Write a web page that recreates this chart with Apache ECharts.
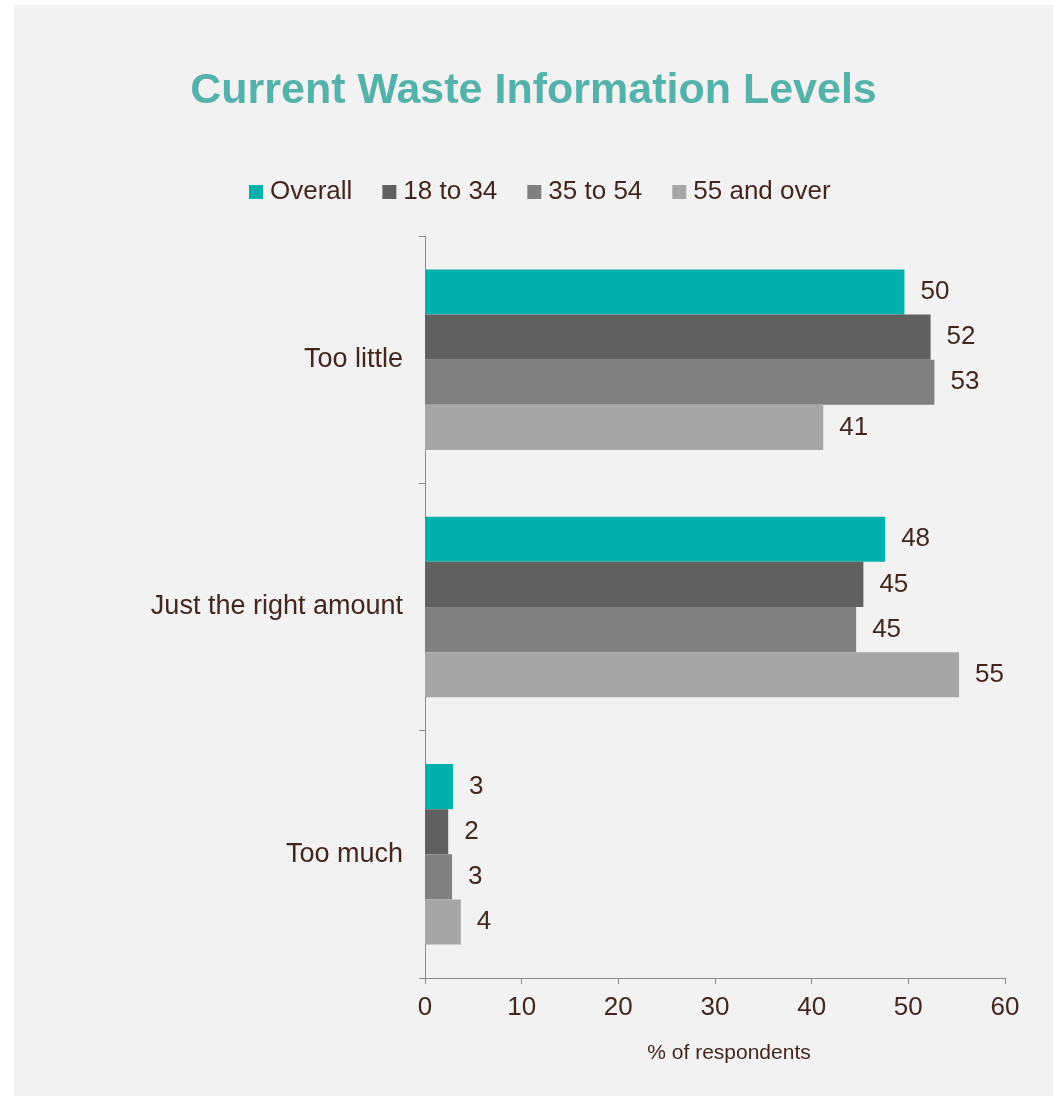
<!DOCTYPE html>
<html>
<head>
<meta charset="utf-8">
<script src="https://cdn.jsdelivr.net/npm/echarts@6/dist/echarts.min.js"></script>
<style>
  html, body { margin: 0; padding: 0; background: #ffffff; }
  #chart { position: absolute; left: 14px; top: 5px; width: 1039px; height: 1091px; background: #f2f2f2; }
</style>
</head>
<body>
<div id="chart"></div>
<script>
// categories top to bottom
const categories = ['Too little', 'Just the right amount', 'Too much'];
const seriesNames = ['Overall', '18 to 34', '35 to 54', '55 and over'];
const overall = [49.6, 47.6, 2.9];
const age18to34 = [52.3, 45.35, 2.4];
const age35to54 = [52.7, 44.6, 2.8];
const age55plus = [41.2, 55.25, 3.7];
const xTicks = [0, 10, 20, 30, 40, 50, 60];

const colors = ['#00b0ac', '#606060', '#808080', '#a6a6a6'];
const txt = '#43261d';
const font = 'Liberation Sans, Arial, sans-serif';

const values = [overall, age18to34, age35to54, age55plus];

const myChart = echarts.init(document.getElementById('chart'));
myChart.setOption({
  backgroundColor: 'transparent',
  title: {
    text: 'Current Waste Information Levels',
    left: 'center',
    top: 60,
    textStyle: { color: '#55b2aa', fontSize: 43, fontWeight: 'bold', fontFamily: font }
  },
  legend: {
    data: seriesNames,
    top: 169,
    left: 230,
    itemWidth: 14,
    itemHeight: 14,
    itemGap: 30,
    icon: 'rect',
    textStyle: { color: txt, fontSize: 26, fontFamily: font, padding: [0, 0, 0, 2] }
  },
  grid: { left: 411, right: 48, top: 231, bottom: 118 },
  xAxis: {
    type: 'value',
    min: xTicks[0],
    max: xTicks[xTicks.length - 1],
    interval: 10,
    name: '% of respondents',
    nameLocation: 'middle',
    nameGap: 65,
    nameTextStyle: { color: txt, fontSize: 21, fontFamily: font, padding: [0, 0, 0, 28] },
    axisLine: { show: true, lineStyle: { color: '#8c8c8c', width: 1 } },
    axisTick: { show: true, length: 6, lineStyle: { color: '#8c8c8c' } },
    axisLabel: { color: txt, fontSize: 26, fontFamily: font, margin: 17 },
    splitLine: { show: false }
  },
  yAxis: {
    type: 'category',
    data: categories,
    inverse: true,
    axisLine: { show: true, lineStyle: { color: '#8c8c8c', width: 1 } },
    axisTick: { show: true, length: 6, lineStyle: { color: '#8c8c8c' } },
    axisLabel: { color: txt, fontSize: 27, fontFamily: font, margin: 22 }
  },
  series: seriesNames.map((name, i) => ({
    name: name,
    type: 'bar',
    data: values[i],
    barGap: '0%',
    barCategoryGap: '27%',
    itemStyle: { color: colors[i] },
    label: {
      show: true,
      position: 'right',
      distance: 16,
      color: txt,
      fontSize: 26,
      fontFamily: font,
      formatter: (p) => Math.round(p.value)
    }
  }))
});
</script>
</body>
</html>
